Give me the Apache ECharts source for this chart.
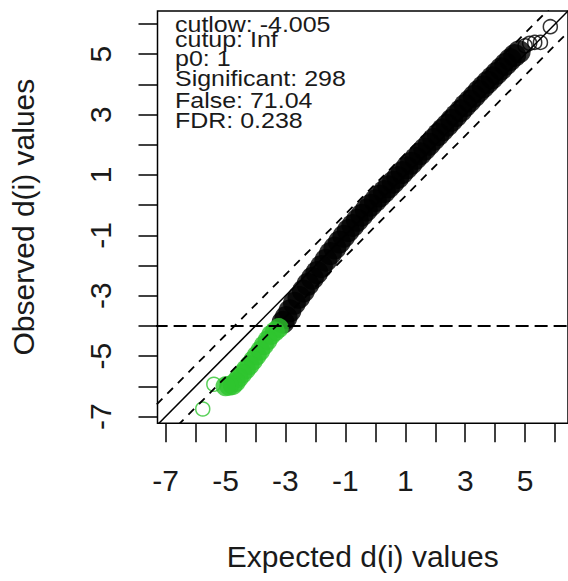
<!DOCTYPE html>
<html><head><meta charset="utf-8">
<script src="https://cdn.jsdelivr.net/npm/echarts@6/dist/echarts.min.js"></script>
<style>html,body{margin:0;padding:0;background:#fff}#c{width:568px;height:581px}</style>
</head><body><div id="c"></div>
<script>
// ---- data ----
const blackExpected = [-3.08,-2.98,-2.85,-2.70,-2.55,-2.40,-2.25,-2.10,-1.95,-1.80,-1.65,-1.50,-1.35,-1.20,-1.05,-0.90,-0.75,-0.60,-0.45,-0.30,-0.15,0.00,0.15,0.30,0.45,0.60,0.75,0.90,1.05,1.20,1.35,1.50,1.65,1.80,1.95,2.10,2.25,2.40,2.55,2.70,2.85,3.00,3.15,3.30,3.45,3.60,3.75,3.90,4.05,4.20,4.35,4.50,4.65,4.80];
const blackObserved = [-3.88,-3.72,-3.50,-3.25,-3.05,-2.84,-2.62,-2.42,-2.23,-2.03,-1.82,-1.60,-1.42,-1.22,-1.03,-0.84,-0.67,-0.50,-0.33,-0.16,0.00,0.15,0.30,0.45,0.61,0.76,0.92,1.08,1.24,1.39,1.55,1.70,1.86,2.02,2.18,2.34,2.50,2.65,2.81,2.97,3.13,3.30,3.45,3.61,3.77,3.92,4.07,4.22,4.37,4.52,4.67,4.82,4.96,5.08];
const blackTailExpected = [5.00,5.15,5.32,5.51,5.84];
const blackTailObserved = [5.28,5.36,5.39,5.39,5.91];
const greenExpected = [-3.22,-3.35,-3.48,-3.60,-3.72,-3.84,-3.96,-4.08,-4.20,-4.32,-4.44,-4.56,-4.66,-4.76,-4.88,-5.00];
const greenObserved = [-4.07,-4.18,-4.30,-4.48,-4.64,-4.82,-4.98,-5.14,-5.30,-5.44,-5.58,-5.72,-5.86,-5.96,-5.98,-6.00];
const greenTailExpected = [-5.39,-5.76];
const greenTailObserved = [-5.93,-6.75];
const cutlow = -4.005;
const delta = 0.7;
const tickValues = [-7,-6,-5,-4,-3,-2,-1,0,1,2,3,4,5,6];
const labelValues = [-7,-5,-3,-1,1,3,5];
const annotationLines = ['cutlow: -4.005','cutup: Inf','p0: 1','Significant: 298','False: 71.04','FDR: 0.238'];
const xTitle = 'Expected d(i) values';
const yTitle = 'Observed d(i) values';

// ---- chart ----
const zip = (a, b) => a.map((v, i) => [v, b[i]]);
const xMin = -7.27, xMax = 6.43, yMin = -7.22, yMax = 6.43;
const FONT = 'Liberation Sans, Arial, sans-serif';
const chart = echarts.init(document.getElementById('c'), null, {renderer: 'svg'});

const annoBase = [35, 50, 69, 89, 111, 131];
const graphics = annotationLines.map((t, i) => ({
  type: 'text', x: 175, y: annoBase[i], scaleY: 0.86,
  style: {text: t, fill: '#1a1a1a', font: '25px ' + FONT, textVerticalAlign: 'bottom'},
  silent: true
}));

function lineSeries(data, type, width, dash) {
  return {type: 'line', data: data, symbol: 'none', silent: true, animation: false, clip: true,
    lineStyle: {color: '#000', width: width, type: type === 'dashed' ? dash : 'solid'}, z: 5};
}
const lo = -8, hi = 8;

const axisCommon = {
  type: 'value',
  splitLine: {show: false},
  axisLine: {show: false, onZero: false},
  axisTick: {show: true, inside: false, length: 19, customValues: tickValues, lineStyle: {color: '#000', width: 1.5}},
  nameLocation: 'middle',
  nameTextStyle: {fontSize: 30, fontFamily: FONT, color: '#1a1a1a'}
};

chart.setOption({
  animation: false,
  backgroundColor: '#fff',
  grid: {left: 157.5, top: 11, width: 414.4, height: 412.2, show: true, borderColor: '#000', borderWidth: 1.5, backgroundColor: 'transparent'},
  xAxis: Object.assign({}, axisCommon, {
    min: xMin, max: xMax, name: xTitle, nameGap: 118,
    axisLabel: {customValues: labelValues, margin: 42, fontSize: 30, fontFamily: FONT, color: '#1a1a1a'}
  }),
  yAxis: Object.assign({}, axisCommon, {
    min: yMin, max: yMax, name: yTitle, nameGap: 119,
    axisLabel: {customValues: labelValues, rotate: 90, margin: 42, fontSize: 30, fontFamily: FONT, color: '#1a1a1a'}
  }),
  graphic: graphics,
  series: [
    {type: 'scatter', data: zip(blackExpected, blackObserved), symbol: 'circle', symbolSize: 23,
      itemStyle: {color: '#000'}, silent: true, z: 2},
    {type: 'scatter', data: zip(blackTailExpected, blackTailObserved), symbol: 'circle', symbolSize: 14,
      itemStyle: {color: 'rgba(0,0,0,0)', borderColor: '#000', borderWidth: 1.5}, silent: true, z: 2},
    {type: 'scatter', data: zip(greenExpected, greenObserved), symbol: 'circle', symbolSize: 20,
      itemStyle: {color: '#2ec42e'}, silent: true, z: 3},
    {type: 'scatter', data: zip(greenTailExpected, greenTailObserved), symbol: 'circle', symbolSize: 14,
      itemStyle: {color: 'rgba(0,0,0,0)', borderColor: '#2ec42e', borderWidth: 1.5}, silent: true, z: 3},
    lineSeries([[lo, lo], [hi, hi]], 'solid', 1.5),
    lineSeries([[lo, lo + delta], [hi, hi + delta]], 'dashed', 1.8, [8, 7]),
    lineSeries([[lo, lo - delta], [hi, hi - delta]], 'dashed', 1.8, [8, 7]),
    lineSeries([[lo, cutlow], [hi, cutlow]], 'dashed', 2, [13, 6])
  ]
});
</script></body></html>
